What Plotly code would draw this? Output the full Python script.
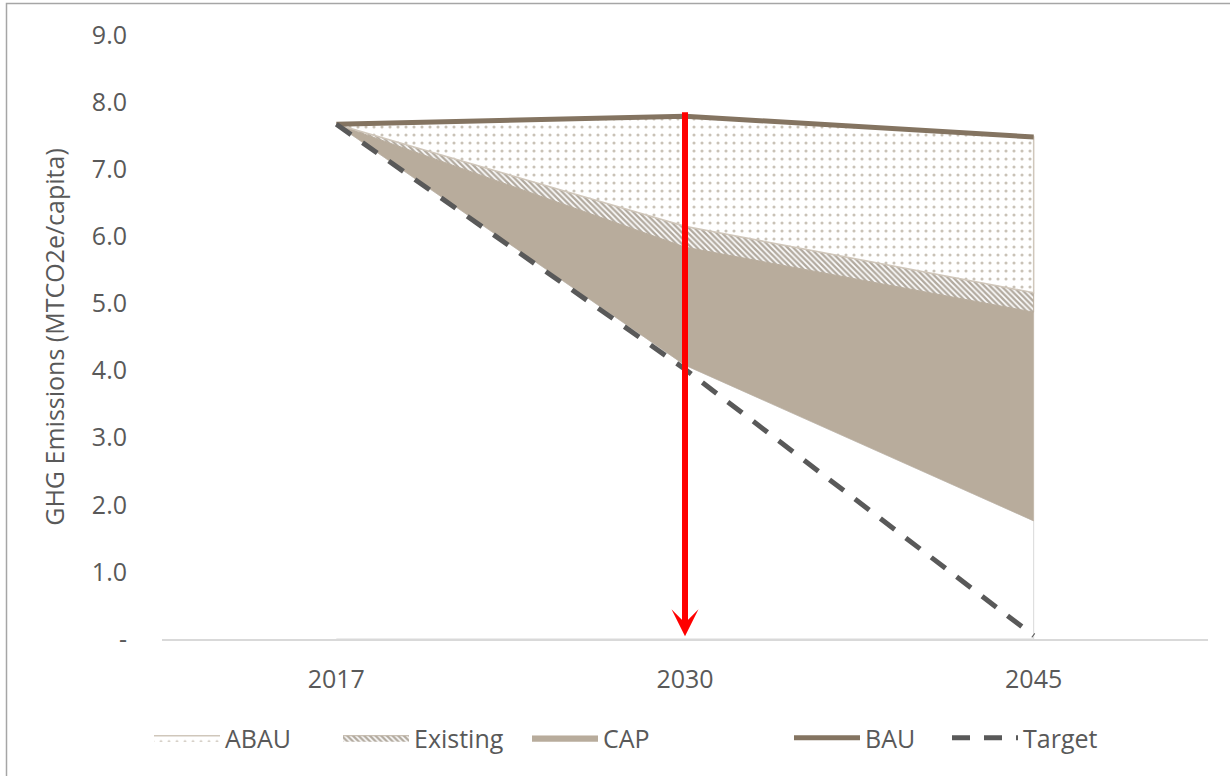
import numpy as np
import plotly.graph_objects as go

# Per-capita GHG emissions (MTCO2e/capita)
years = ["2017", "2030", "2045"]
bau = [7.67, 7.79, 7.48]
target = [7.67, 4.02, 0.05]
remaining = [7.67, 4.08, 1.76]   # residual emissions after all measures
cap = [0.00, 1.76, 3.11]         # reduction from CAP measures
existing = [0.00, 0.31, 0.29]    # reduction from existing measures
abau = [0.00, 1.64, 2.32]        # adjusted BAU reduction

y_ticks = list(range(10))
y_ticktext = ["-"] + [f"{v:.1f}" for v in y_ticks[1:]]

xi = np.arange(len(years))
lvl0 = np.array(remaining)
lvl1 = lvl0 + np.array(cap)
lvl2 = lvl1 + np.array(existing)
lvl3 = lvl2 + np.array(abau)


def band(lower, upper):
    xs = list(xi) + list(xi[::-1])
    ys = list(upper) + list(np.asarray(lower)[::-1])
    return xs, ys


TEXT = "#595959"
FONT = "Open Sans"

fig = go.Figure()

# lower, unfilled area (only its light outline is visible)
bx, by = band(np.zeros(len(years)), lvl0)
fig.add_trace(go.Scatter(x=bx, y=by, mode="lines", fill="toself",
                         fillcolor="rgba(255,255,255,0)",
                         line=dict(color="#d9d9d9", width=1),
                         showlegend=False, hoverinfo="skip"))

cx, cy = band(lvl0, lvl1)
fig.add_trace(go.Scatter(x=cx, y=cy, mode="lines", fill="toself", name="CAP",
                         fillcolor="#b8ac9c", line=dict(color="#b8ac9c", width=0.5),
                         legend="legend", legendrank=3, hoverinfo="skip"))

ex, ey = band(lvl1, lvl2)
fig.add_trace(go.Scatter(x=ex, y=ey, mode="lines", fill="toself", name="Existing",
                         fillcolor="white",
                         fillpattern=dict(shape="\\", fgcolor="#65553f", bgcolor="white",
                                          size=4, solidity=0.6),
                         line=dict(color="#b8ac9c", width=1),
                         legend="legend", legendrank=2, hoverinfo="skip"))

ax_, ay_ = band(lvl2, lvl3)
fig.add_trace(go.Scatter(x=ax_, y=ay_, mode="lines", fill="toself", name="ABAU",
                         fillcolor="white",
                         fillpattern=dict(shape=".", fgcolor="#94866f", bgcolor="white",
                                          size=8, solidity=0.12),
                         line=dict(color="#d0c7bb", width=1.5),
                         legend="legend", legendrank=1, hoverinfo="skip"))

fig.add_trace(go.Scatter(x=xi, y=bau, mode="lines", name="BAU",
                         line=dict(color="#847461", width=5),
                         legend="legend2", legendrank=4, hoverinfo="skip"))

fig.add_trace(go.Scatter(x=xi, y=target, mode="lines", name="Target",
                         line=dict(color="#595959", width=5, dash="18px,14px"),
                         legend="legend2", legendrank=5, hoverinfo="skip"))

# red marker arrow at 2030
fig.add_annotation(x=1, y=0.04, ax=1, ay=7.87, xref="x", yref="y", axref="x", ayref="y",
                   text="", showarrow=True, arrowhead=3, arrowsize=0.75, arrowwidth=6,
                   arrowcolor="#ff0000", standoff=0, startstandoff=0)

# chart frame
pw, ph, left, bottom = 1046.0, 604.0, 162.0, 639.0
fig.add_shape(type="rect", xref="paper", yref="paper",
              x0=(6.5 - left) / pw, x1=(1240 - left) / pw,
              y0=(bottom - 790) / ph, y1=(bottom - 3.5) / ph,
              line=dict(color="#a6a6a6", width=1.5), fillcolor="rgba(0,0,0,0)", layer="below")

fig.update_layout(
    width=1230, height=776,
    margin=dict(l=162, r=22, t=35, b=137, autoexpand=False),
    paper_bgcolor="white", plot_bgcolor="white",
    font=dict(family=FONT, size=25, color=TEXT),
    xaxis=dict(tickmode="array", tickvals=list(xi), ticktext=years, range=[-0.5, 2.5],
               showline=True, linecolor="#d9d9d9", linewidth=2, showgrid=False,
               zeroline=False, ticks="", ticklabelstandoff=17, fixedrange=True),
    yaxis=dict(tickmode="array", tickvals=y_ticks, ticktext=y_ticktext, range=[0, 9],
               showline=False, showgrid=False, zeroline=False, ticks="",
               ticklabelstandoff=34,
               title=dict(text="GHG Emissions (MTCO2e/capita)", standoff=20,
                          font=dict(size=25, color=TEXT)),
               fixedrange=True),
    legend=dict(orientation="h", x=(149 - left) / pw, y=(bottom - 738) / ph,
                xanchor="left", yanchor="middle", entrywidth=108, entrywidthmode="pixels",
                itemwidth=66,
                bgcolor="rgba(0,0,0,0)", font=dict(size=25, color=TEXT)),
    legend2=dict(orientation="h", x=(789 - left) / pw, y=(bottom - 738) / ph,
                 xanchor="left", yanchor="middle", entrywidth=77, entrywidthmode="pixels",
                 itemwidth=66,
                 bgcolor="rgba(0,0,0,0)", font=dict(size=25, color=TEXT)),
    showlegend=True,
)

fig.write_html("out.html")
